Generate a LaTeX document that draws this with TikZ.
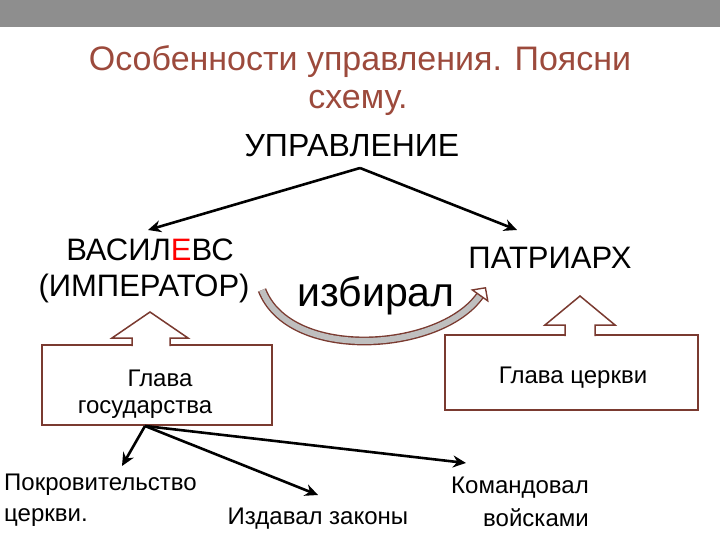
\documentclass[tikz,border=0pt]{standalone}
\usepackage{fontspec}
\setmainfont{Liberation Sans}
\usetikzlibrary{arrows.meta}
\definecolor{ttl}{HTML}{9C4A3C}
\definecolor{brd}{HTML}{7A3A30}
\definecolor{bar}{HTML}{8E8E8E}
\begin{document}
\begin{tikzpicture}[x=1pt,y=-1pt,
  txt/.style={inner sep=0pt,font=\fontsize{24}{28}\selectfont},
  big/.style={inner sep=0pt,font=\fontsize{31}{34}\selectfont},
  arr/.style={line width=2.6pt,-{Stealth[length=13pt,width=12pt]}},
  call/.style={draw=brd,line width=1.5pt,fill=white}]
\useasboundingbox (0,0) rectangle (720,540);
\fill[bar] (0,0) rectangle (720,27);
\draw[white,line width=1pt] (0,29) -- (720,29);
\node[inner sep=0pt,text=ttl,font=\fontsize{34}{38}\selectfont] (t1) at (360,62) {Особенности управления. Поясни};
\node[inner sep=0pt,text=ttl,font=\fontsize{34}{38}\selectfont] (t2) at (358,103) {схему.};
\node[inner sep=0pt,font=\fontsize{32}{36}\selectfont] (up) at (352,146) {УПРАВЛЕНИЕ};
\coordinate (s) at (360,168);
\coordinate (ae) at (148,230);
\coordinate (be) at (517,230);
\draw[arr] (s) -- (ae);
\draw[arr] (s) -- (be);
\node[big] (v1) at (150,250) {ВАСИЛ\textcolor{red}{Е}ВС};
\node[big] (v2) at (144,288) {(ИМПЕРАТОР)};
\node[big] (pa) at (550,258) {ПАТРИАРХ};
\node[inner sep=0pt,font=\fontsize{41}{44}\selectfont] (iz) at (376,296) {избирал};
% curved block arrow
\coordinate (c1) at (262,290);
\coordinate (c2) at (486,287);
\draw[draw=brd,double=lightgray,double distance=6pt,line width=1.4pt,
  -{Triangle[open,length=11pt,width=22pt]}]
  (c1) .. controls (290,362) and (440,352) .. (c2);
% left callout
\draw[call] (42,345) rectangle (272,425);
\draw[call] (132,346) -- (132,338) -- (112,338) -- (150,312) -- (188,338) -- (170,338) -- (170,346);
\node[txt] (g1) at (160,378) {Глава};
\node[txt] (g2) at (145,410) {государства};
% right callout
\draw[call] (445,335) rectangle (698,410);
\draw[call] (565,336) -- (565,325) -- (545,325) -- (580,296) -- (615,325) -- (595,325) -- (595,336);
\node[txt] (gc) at (573,378) {Глава церкви};
% bottom arrows
\coordinate (o) at (145,426);
\node[txt,anchor=west] (p1) at (4,485) {Покровительство};
\node[txt,anchor=west] (p2) at (4,518) {церкви.};
\node[txt] (iz2) at (318,519) {Издавал законы};
\node[txt] (k1) at (520,488) {Командовал};
\node[txt] (k2) at (536,518) {войсками};
\draw[arr] (o) -- (122,466);
\draw[arr] (o) -- (318,495);
\draw[arr] (o) -- (466,463);
\end{tikzpicture}
\end{document}
